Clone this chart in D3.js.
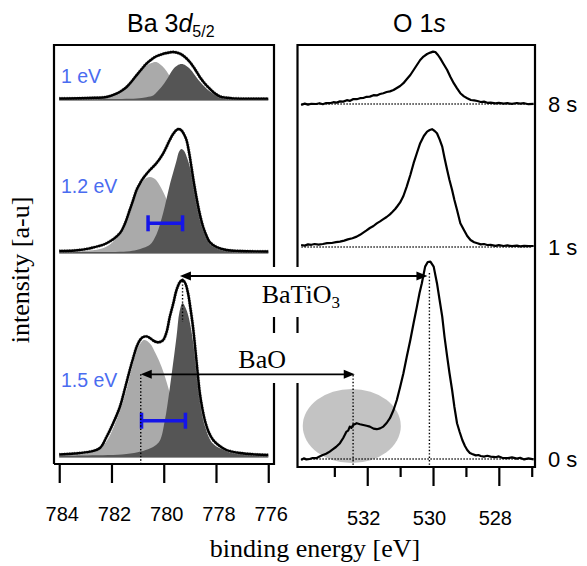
<!DOCTYPE html>
<html><head><meta charset="utf-8">
<script src="https://cdn.jsdelivr.net/npm/d3@7"></script>
<style>body{margin:0;background:#fff}svg{display:block}</style>
</head><body>
<svg id="c" width="587" height="566"></svg>
<script>
// ---------------- DATA ----------------
const baTicks = [784, 782, 780, 778, 776];
const oTicks = [532, 530, 528];
const oMinorTicks = [533, 531, 529, 527];
const baPanelLabels = ["1 eV", "1.2 eV", "1.5 eV"];
const oTimeLabels = ["8 s", "1 s", "0 s"];

// Ba 3d5/2 fits  [binding energy eV, intensity a.u.]
const ba1_BaO = [[784,0.07],[783.72,0.07],[782.77,0.28],[782.19,0.9],[781.81,2.6],[781.43,5.9],[781.04,11.8],[780.66,16.65],[780.47,18.0],[780.28,18.5],[780.13,17.2],[779.97,15.2],[779.80,12.0],[779.65,8.3],[779.32,3.3],[779.02,1.3],[778.64,0.55],[777.99,0.18],[776.46,0.06],[776,0.05]];
const ba1_BaTiO3 = [[784,0],[781.61,0.05],[781.04,0.26],[780.66,0.9],[780.39,1.9],[780.28,3.2],[780.08,6.1],[779.89,9.6],[779.64,14.9],[779.48,16.8],[779.32,17.5],[779.16,16.8],[779.00,15.1],[778.62,8.75],[778.24,3.85],[777.86,1.2],[777.41,0.44],[776.64,0.18],[776,0.1]];
const ba1_fit = [[784,0.25],[783.21,0.35],[782.63,0.6],[782.19,1],[781.81,2.65],[781.61,4.15],[781.42,6],[781.23,8.75],[781.04,11.85],[780.85,14.85],[780.66,17.65],[780.47,19.75],[780.28,21.35],[780.08,22.35],[779.89,23],[779.64,23.5],[779.38,22.65],[779.19,21],[779.00,18.5],[778.81,15],[778.62,11],[778.43,7.75],[778.24,5.15],[778.05,2.9],[777.86,1.35],[777.60,0.6],[777.35,0.3],[776,0.2]];

const ba2_BaO = [[784,0.2],[783.02,0.55],[782.44,1.5],[782.06,3.75],[781.68,9.4],[781.29,19.9],[781.04,30],[780.79,35.6],[780.66,37.0],[780.53,37.5],[780.40,37.0],[780.27,35.6],[780.02,30],[779.77,22.5],[779.51,15],[779.32,9.75],[779.00,4.5],[778.62,1.9],[777.85,0.56],[776.71,0.2],[776,0.1]];
const ba2_BaTiO3 = [[784,0],[781.42,0.26],[781.04,1.0],[780.77,2.1],[780.53,3.6],[780.28,8.8],[780.02,19.6],[779.77,33.5],[779.51,45.8],[779.42,50.0],[779.32,51.5],[779.22,50.5],[779.13,47.9],[778.94,39.7],[778.75,26.8],[778.49,11.3],[778.25,4.6],[777.98,2.3],[777.41,1.0],[776.26,0.4],[776,0.35]];
const ba2_fit = [[784,0.5],[783.40,0.75],[782.83,1.85],[782.19,4.35],[781.68,9.35],[781.49,14],[781.30,21],[781.17,26],[781.04,31],[780.91,34.25],[780.79,36.85],[780.53,41],[780.28,44.35],[780.02,49.35],[779.77,56],[779.64,59],[779.51,61],[779.42,61.5],[779.32,60.75],[779.23,59],[779.13,56],[779.04,50.5],[778.94,42.5],[778.85,35],[778.75,27.5],[778.62,19],[778.49,12.5],[778.36,8],[778.24,5],[777.98,2.5],[777.60,1],[777.09,0.5],[776,0.25]];

const ba3_BaO = [[784,0.25],[783.44,0.6],[782.75,2.0],[782.29,5.8],[782.10,9.3],[781.83,17.4],[781.60,25.5],[781.37,36],[781.22,44.1],[780.99,53.9],[780.76,58],[780.53,56.3],[780.30,51],[780.07,44.1],[779.84,34.8],[779.61,24.4],[779.38,15.7],[779.15,9.3],[778.85,4.6],[778.47,2.3],[777.70,0.9],[776.17,0.3],[776,0.25]];
const ba3_BaTiO3 = [[784,0.1],[783.1,0.3],[781.6,0.8],[781.0,1.9],[780.6,3.4],[780.35,5.0],[780.15,7.6],[779.96,17.6],[779.77,33.7],[779.51,59.7],[779.40,71.9],[779.28,76.5],[779.17,74.2],[779.05,69.6],[778.88,57.4],[778.75,42.8],[778.62,28.3],[778.43,15.3],[778.11,6.1],[777.6,2.7],[777.0,1.4],[776.0,0.6]];
const ba3_fit = [[784,0.75],[783.40,1.25],[782.83,2.15],[782.44,4],[782.19,9.5],[781.95,16],[781.68,24.5],[781.49,33.5],[781.30,43],[781.17,49],[781.04,54.5],[780.91,58],[780.79,59.5],[780.66,59.8],[780.53,59],[780.41,57.8],[780.28,57],[780.15,57],[780.02,58],[779.89,62],[779.77,69.5],[779.64,76],[779.51,83],[779.38,87],[779.28,88],[779.18,86.5],[779.07,81.4],[778.98,74],[778.88,64.5],[778.75,48],[778.62,31.5],[778.52,23.5],[778.43,18],[778.28,12],[778.11,8],[777.86,5],[777.60,3],[777.09,1.5],[776.45,0.75],[776,0.5]];

// O 1s spectra  [binding energy eV, intensity a.u.]
const o_8s = [[534.01,-0.5],[533.90,0.2],[533.80,-0.3],[533.70,0.1],[533.55,0],[533.45,0.4],[533.35,-0.1],[533.25,0.5],[533.14,0.4],[533.03,0.9],[532.93,0.7],[532.83,1.3],[532.73,1.2],[532.62,1.9],[532.52,1.6],[532.42,2.5],[532.32,2.4],[532.22,2.9],[532.12,3.0],[532.02,3.6],[531.92,3.7],[531.81,4.4],[531.71,4.3],[531.61,5.0],[531.51,5.4],[531.41,6.0],[531.31,6.3],[531.20,7.0],[531.10,8.0],[531.00,9.0],[530.90,10.4],[530.80,12.4],[530.69,14.5],[530.59,17.0],[530.49,19.5],[530.39,22.0],[530.29,23.7],[530.18,25.0],[530.08,25.7],[530.00,26.2],[529.93,26.0],[529.85,24.5],[529.78,22.8],[529.68,20.0],[529.57,17.0],[529.47,13.5],[529.37,10.4],[529.27,7.8],[529.17,5.4],[529.06,3.8],[528.96,2.9],[528.85,2.0],[528.75,1.8],[528.65,1.5],[528.55,1.0],[528.45,1.2],[528.35,0.6],[528.25,0.7],[528.10,0.3],[528.00,0.6],[527.85,0.2],[527.74,0.4],[527.60,0.1],[527.45,0.5],[527.35,0.2],[527.23,0.4],[527.10,-0.1],[526.94,0.1]];
const o_1s = [[534.01,1.0],[533.90,0.7],[533.80,1.3],[533.70,1.1],[533.60,1.5],[533.48,1.2],[533.35,1.5],[533.22,1.9],[533.08,2.0],[532.95,2.4],[532.83,2.7],[532.70,3.2],[532.59,3.8],[532.45,4.4],[532.32,5.2],[532.22,6.1],[532.12,7.2],[532.02,8.3],[531.92,9.5],[531.81,10.5],[531.71,11.8],[531.61,12.8],[531.51,13.9],[531.41,15.0],[531.31,16.3],[531.23,17.6],[531.15,19.0],[531.08,20.5],[531.00,22.3],[530.90,25.5],[530.80,30.2],[530.69,36],[530.59,41.9],[530.49,47],[530.39,51.9],[530.28,55.5],[530.18,57.7],[530.10,58.5],[530.03,58.9],[529.95,58.0],[529.88,56.9],[529.80,53.8],[529.72,50.2],[529.65,44.5],[529.57,38.5],[529.50,33.5],[529.42,28.5],[529.35,23.5],[529.27,18.5],[529.17,11.9],[529.06,8.5],[528.96,5.5],[528.86,3.5],[528.75,2.4],[528.65,1.9],[528.55,1.3],[528.45,1.5],[528.35,1.0],[528.25,1.1],[528.10,0.6],[528.00,0.9],[527.85,0.5],[527.74,0.8],[527.60,0.4],[527.45,0.7],[527.35,0.3],[527.23,0.6],[527.10,0.4],[526.94,0.5]];
const o_0s = [[534.01,-0.5],[533.93,0.3],[533.85,-0.2],[533.75,0],[533.66,0.5],[533.55,0.4],[533.45,1.2],[533.35,2.0],[533.25,2.6],[533.14,3.7],[533.05,4.8],[532.95,6.0],[532.83,7.9],[532.73,10.5],[532.63,13.7],[532.58,14.2],[532.53,16.2],[532.48,15.6],[532.43,17.0],[532.32,17.9],[532.22,17.4],[532.12,17.0],[532.02,16.6],[531.92,16.2],[531.81,15.2],[531.71,14.9],[531.61,15.3],[531.51,16.2],[531.41,18.0],[531.31,20.4],[531.20,24.5],[531.10,29.5],[531.00,36],[530.90,42.9],[530.80,51],[530.69,59.5],[530.59,68],[530.49,76.2],[530.41,83],[530.34,87.9],[530.24,96.2],[530.16,98.5],[530.08,98.7],[529.98,96.2],[529.88,87.9],[529.80,79.5],[529.72,71.2],[529.65,61],[529.57,51.2],[529.50,43],[529.42,34.5],[529.35,26],[529.27,17.9],[529.19,13.5],[529.11,9.5],[529.03,6.5],[528.96,4.5],[528.88,3.0],[528.81,2.5],[528.70,1.8],[528.62,2.0],[528.55,1.5],[528.45,1.2],[528.35,1.6],[528.25,1.2],[528.10,0.9],[528.00,1.3],[527.90,0.6],[527.74,0.4],[527.60,0.8],[527.45,0.2],[527.35,0.6],[527.23,-0.2],[527.10,0.3],[526.94,-0.2]];

// peak positions (eV) and separation bars [BaO eV, BaTiO3 eV, level a.u.]
const peakBaTiO3 = [779.38, 530.17];
const peakBaO = [780.88, 532.38];
const sepBars = [[780.60, 779.28, 14.35], [780.85, 779.17, 17.65]];
const peakMarksBa = [779.28, 780.88];
const peakMarksO = [530.11, 532.43];
const bumpRegion = [532.47, 1.49, 16.5, 18.5]; // centre eV, half-width eV, level, half-height

// ---------------- DRAWING ----------------
const svg = d3.select("#c");
const SANS = "'Liberation Sans', Arial, sans-serif";
const SERIF = "'Liberation Serif', 'Times New Roman', serif";

const xBa = d3.scaleLinear().domain([784.2, 775.78]).range([54, 274]);
const yBa = d3.scaleLinear().domain([-4, 205.5]).range([464, 45]);
const xO = d3.scaleLinear().domain([534.12, 526.9]).range([297.5, 535]);
const yO = d3.scaleLinear().domain([-4, 207]).range([467, 45]);

const baOffsets = [178.5, 102, 0];
const oOffsets = [177.5, 106, 0];
const baSets = [[ba1_BaO, ba1_BaTiO3, ba1_fit], [ba2_BaO, ba2_BaTiO3, ba2_fit], [ba3_BaO, ba3_BaTiO3, ba3_fit]];
const oSets = [o_8s, o_1s, o_0s];

// --- left panel (Ba 3d)
baSets.forEach((s, i) => {
  const off = baOffsets[i];
  const area = d3.area().x(d => xBa(d[0])).y0(yBa(off - 0.8)).y1(d => yBa(d[1] + off)).curve(d3.curveCatmullRom.alpha(0.5));
  const line = d3.line().x(d => xBa(d[0])).y(d => yBa(d[1] + off)).curve(d3.curveCatmullRom.alpha(0.5));
  const g = svg.append("g");
  g.append("path").attr("d", area(s[0])).attr("fill", "#aaaaaa");
  g.append("path").attr("d", area(s[1])).attr("fill", "#555555");
  g.append("path").attr("d", line(s[2])).attr("fill", "none").attr("stroke", "#8c8c8c").attr("stroke-width", 3.4)
    .attr("stroke-dasharray", "1,1.5");
  g.append("path").attr("d", line(s[2])).attr("fill", "none").attr("stroke", "#000").attr("stroke-width", 2.4);
});

// panel labels (blue)
const baLabelY = [83, 193, 387];
baPanelLabels.forEach((t, i) => {
  svg.append("text").attr("x", 61).attr("y", baLabelY[i]).text(t)
    .attr("font-family", SANS).attr("font-size", 19.5).attr("fill", "#4a6cf0");
});

// separation bars
sepBars.forEach((b, k) => {
  const off = baOffsets[k + 1];
  const y = yBa(b[2] + off);
  const x1 = xBa(b[0]), x2 = xBa(b[1]);
  const g = svg.append("g").attr("stroke", "#1515e8").attr("stroke-width", 3.5);
  g.append("line").attr("x1", x1).attr("x2", x2).attr("y1", y).attr("y2", y);
  g.append("line").attr("x1", x1).attr("x2", x1).attr("y1", y - 8).attr("y2", y + 8);
  g.append("line").attr("x1", x2).attr("x2", x2).attr("y1", y - 8).attr("y2", y + 8);
});

// --- right panel (O 1s)
svg.append("ellipse")
  .attr("cx", xO(bumpRegion[0])).attr("cy", yO(bumpRegion[2]))
  .attr("rx", xO(bumpRegion[0] - bumpRegion[1]) - xO(bumpRegion[0]))
  .attr("ry", yO(bumpRegion[2] - bumpRegion[3]) - yO(bumpRegion[2]))
  .attr("fill", "#c3c3c3");

oSets.forEach((s, i) => {
  const off = oOffsets[i];
  svg.append("line").attr("x1", xO(534.0)).attr("x2", xO(527.0))
    .attr("y1", yO(off)).attr("y2", yO(off))
    .attr("stroke", "#000").attr("stroke-width", 1.3).attr("stroke-dasharray", "1.3,1.7");
  const line = d3.line().x(d => xO(d[0])).y(d => yO(d[1] + off));
  svg.append("path").attr("d", line(s)).attr("fill", "none").attr("stroke", "#000")
    .attr("stroke-width", 2.2).attr("stroke-linejoin", "round");
});

// dotted peak markers
const dot = (x, y1, y2) => svg.append("line").attr("x1", x).attr("x2", x).attr("y1", y1).attr("y2", y2)
  .attr("stroke", "#000").attr("stroke-width", 1.4).attr("stroke-dasharray", "1.4,2");
dot(xBa(peakMarksBa[0]), yBa(87.5), yBa(67));
dot(xBa(peakMarksBa[1]), yBa(40.85), yBa(-4));
dot(xO(peakMarksO[0]), yO(93), yO(-3.5));
dot(xO(peakMarksO[1]), yO(42), yO(-3.5));

// arrows
function arrow(xa, xb, y) {
  const g = svg.append("g");
  g.append("line").attr("x1", xa + 6).attr("x2", xb - 6).attr("y1", y).attr("y2", y)
    .attr("stroke", "#000").attr("stroke-width", 1.8);
  g.append("path").attr("d", `M${xa},${y}L${xa + 11},${y - 4.5}L${xa + 11},${y + 4.5}Z`).attr("fill", "#000");
  g.append("path").attr("d", `M${xb},${y}L${xb - 11},${y - 4.5}L${xb - 11},${y + 4.5}Z`).attr("fill", "#000");
}
arrow(xBa(peakBaTiO3[0]), xO(peakBaTiO3[1]), yBa(90));
arrow(xBa(peakBaO[0]), xO(peakBaO[1]), yBa(40.85));

// frames with axis break
const frame = svg.append("g").attr("stroke", "#000").attr("stroke-width", 2.2).attr("fill", "none");
frame.append("path").attr("d", "M54,464V45H274V267M274,317V333M274,383V464H54");
frame.append("path").attr("d", "M297.5,267V45H535V467H297.5V383M297.5,333V317");

// axes
const axBa = svg.append("g").attr("transform", "translate(0,464)")
  .call(d3.axisBottom(xBa).tickValues(baTicks).tickSize(19).tickFormat(d3.format("d")));
axBa.select(".domain").remove();
axBa.selectAll("line").attr("stroke-width", 2.2);
axBa.selectAll("text").attr("y", 57).attr("dy", null).attr("dx", 2.5)
  .attr("font-family", SANS).attr("font-size", 20).attr("fill", "#000");

const axOm = svg.append("g").attr("transform", "translate(0,467)")
  .call(d3.axisBottom(xO).tickValues(oMinorTicks).tickSize(10).tickFormat(""));
axOm.select(".domain").remove();
axOm.selectAll("line").attr("stroke-width", 2.2);
const axO = svg.append("g").attr("transform", "translate(0,467)")
  .call(d3.axisBottom(xO).tickValues(oTicks).tickSize(19).tickFormat(d3.format("d")));
axO.select(".domain").remove();
axO.selectAll("line").attr("stroke-width", 2.2);
axO.selectAll("text").attr("y", 58).attr("dy", null).attr("dx", -4)
  .attr("font-family", SANS).attr("font-size", 20).attr("fill", "#000");

// time labels
oTimeLabels.forEach((t, i) => {
  svg.append("text").attr("x", 548).attr("y", yO(oOffsets[i]) + 8).text(t)
    .attr("font-family", SANS).attr("font-size", 22).attr("fill", "#000");
});

// titles
const t1 = svg.append("text").attr("x", 127).attr("y", 32).attr("font-family", SANS).attr("font-size", 25);
t1.append("tspan").text("Ba 3");
t1.append("tspan").text("d").attr("font-style", "italic");
t1.append("tspan").text("5/2").attr("font-size", 16).attr("dy", 5);
const t2 = svg.append("text").attr("x", 393).attr("y", 32).attr("font-family", SANS).attr("font-size", 25);
t2.append("tspan").text("O 1");
t2.append("tspan").text("s").attr("font-style", "italic");

// chemical labels
const c1 = svg.append("text").attr("x", 261.7).attr("y", 303).attr("font-family", SERIF).attr("font-size", 26);
c1.append("tspan").text("BaTiO");
c1.append("tspan").text("3").attr("font-size", 17).attr("dy", 5);
svg.append("text").attr("x", 238.3).attr("y", 368).attr("font-family", SERIF).attr("font-size", 26).text("BaO");

// axis titles
svg.append("text").attr("x", 315).attr("y", 557).attr("text-anchor", "middle")
  .attr("font-family", SERIF).attr("font-size", 26).text("binding energy [eV]");
svg.append("text").attr("transform", "translate(29,270) rotate(-90)").attr("text-anchor", "middle")
  .attr("font-family", SERIF).attr("font-size", 26).text("intensity [a-u]");
</script>
</body></html>
